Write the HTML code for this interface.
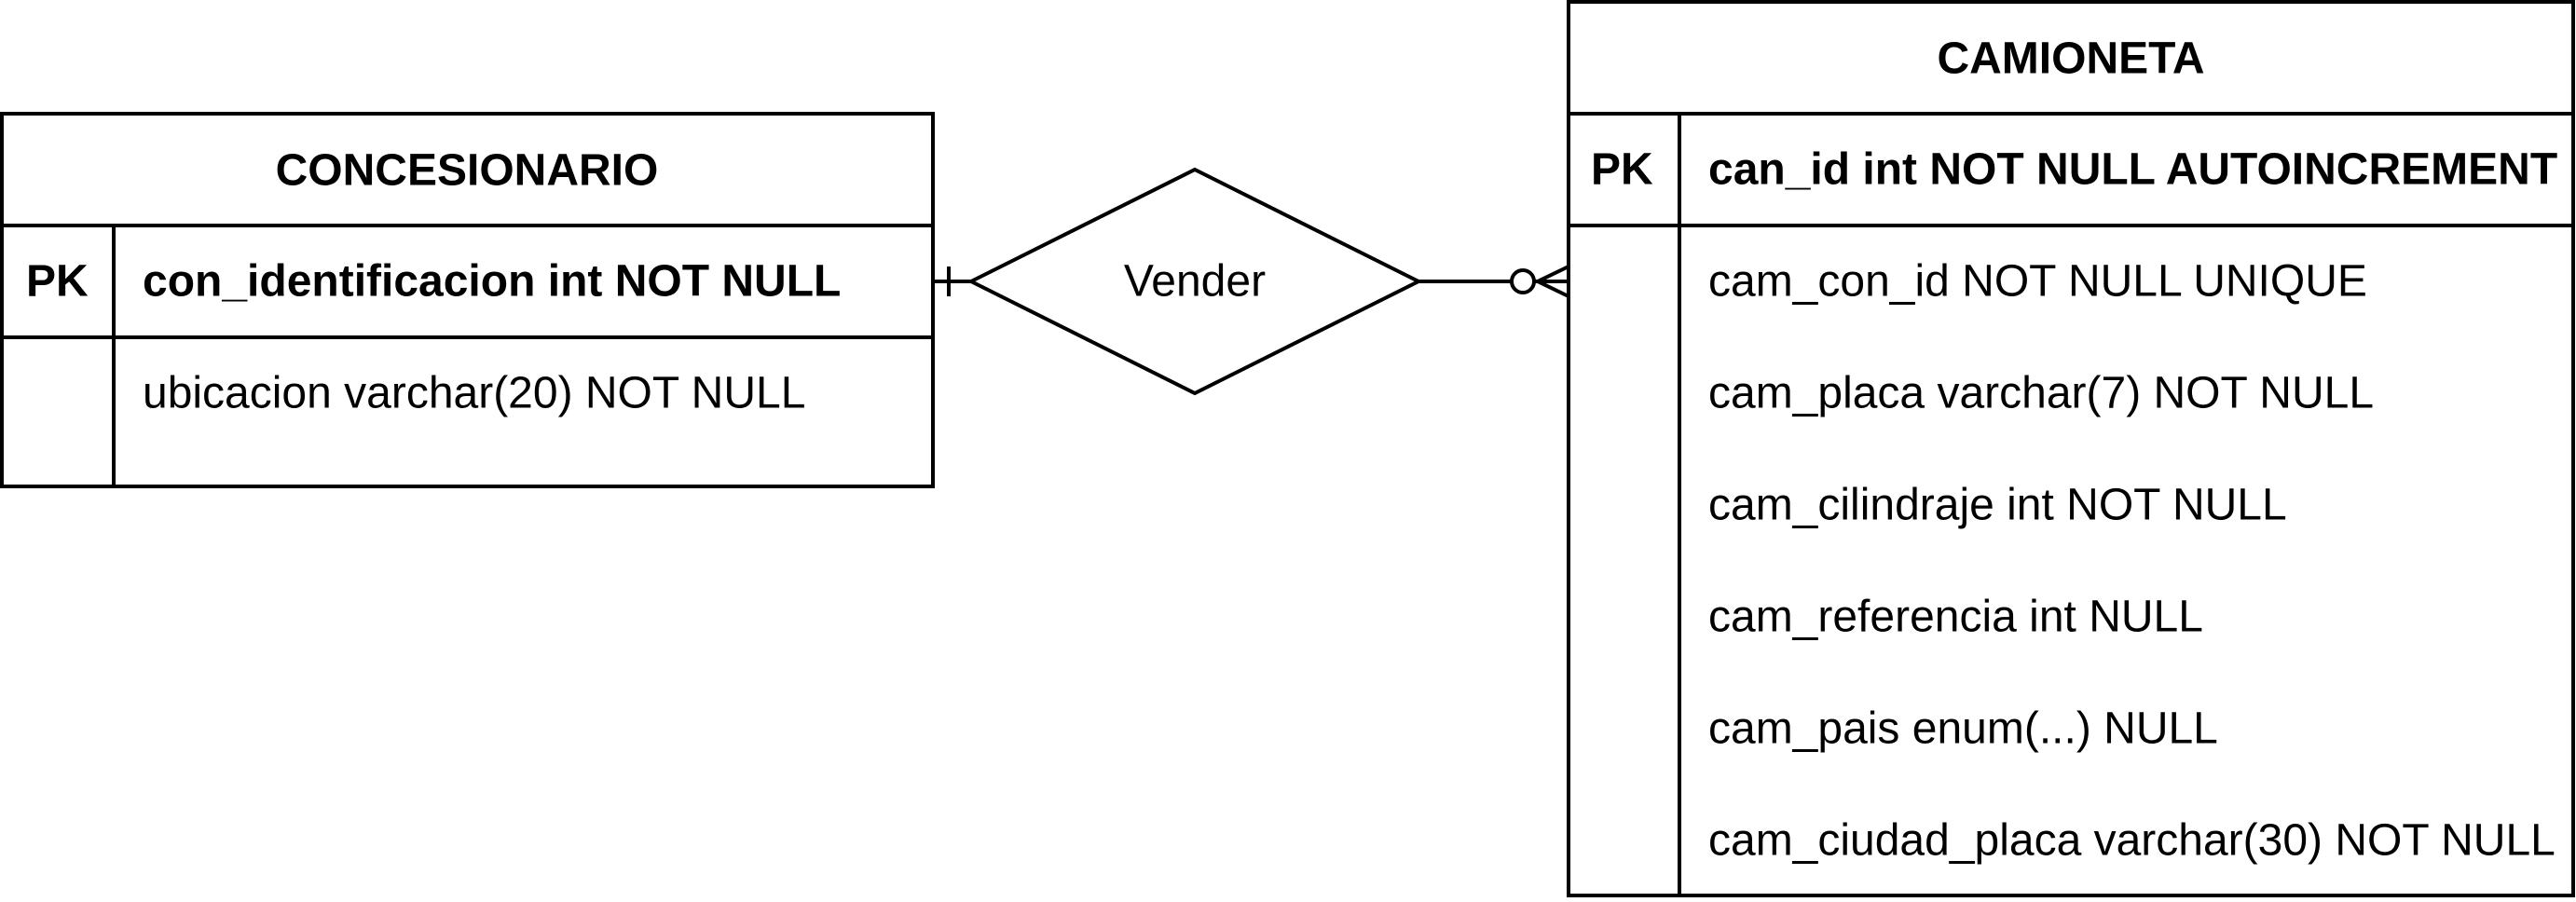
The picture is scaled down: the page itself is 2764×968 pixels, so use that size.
<!DOCTYPE html>
<html><head><meta charset="utf-8"><style>
html,body{margin:0;padding:0;background:#fff;}
svg{display:block;}
text{font-family:"Liberation Sans",Arial,sans-serif;font-size:48px;fill:#000;dominant-baseline:central;}
.b{font-weight:bold;}
</style></head><body>
<svg width="2764" height="968" viewBox="0 0 2764 968" xmlns="http://www.w3.org/2000/svg">
<g fill="none" stroke="#000" stroke-width="4">
<!-- left table -->
<rect x="2" y="122" width="999" height="400"/>
<line x1="2" y1="242" x2="1001" y2="242"/>
<line x1="2" y1="362" x2="1001" y2="362"/>
<line x1="122" y1="242" x2="122" y2="522"/>
<!-- right table -->
<rect x="1683" y="2" width="1078" height="959"/>
<line x1="1683" y1="122" x2="2761" y2="122"/>
<line x1="1683" y1="242" x2="2761" y2="242"/>
<line x1="1802" y1="122" x2="1802" y2="961"/>
<!-- diamond -->
<polygon points="1042,302 1282,182 1522,302 1282,422"/>
<!-- connectors -->
<line x1="1001" y1="302" x2="1042" y2="302"/>
<line x1="1018" y1="286" x2="1018" y2="318"/>
<line x1="1522" y1="302" x2="1621" y2="302"/>
<circle cx="1634" cy="302" r="12"/>
<line x1="1646" y1="302" x2="1683" y2="302"/>
<line x1="1650" y1="302" x2="1683" y2="286"/>
<line x1="1650" y1="302" x2="1683" y2="318"/>
</g>
<text class="b" x="501" y="183" text-anchor="middle">CONCESIONARIO</text>
<text class="b" x="28" y="302">PK</text>
<text class="b" x="153" y="302">con_identificacion int NOT NULL</text>
<text x="153" y="422">ubicacion varchar(20) NOT NULL</text>
<text x="1282" y="302" text-anchor="middle">Vender</text>
<text class="b" x="2222" y="63" text-anchor="middle">CAMIONETA</text>
<text class="b" x="1707" y="182">PK</text>
<text class="b" x="1833" y="182">can_id int NOT NULL AUTOINCREMENT</text>
<text x="1833" y="302">cam_con_id NOT NULL UNIQUE</text>
<text x="1833" y="422">cam_placa varchar(7) NOT NULL</text>
<text x="1833" y="542">cam_cilindraje int NOT NULL</text>
<text x="1833" y="662">cam_referencia int NULL</text>
<text x="1833" y="782">cam_pais enum(...) NULL</text>
<text x="1833" y="902">cam_ciudad_placa varchar(30) NOT NULL</text>
</svg>
</body></html>
